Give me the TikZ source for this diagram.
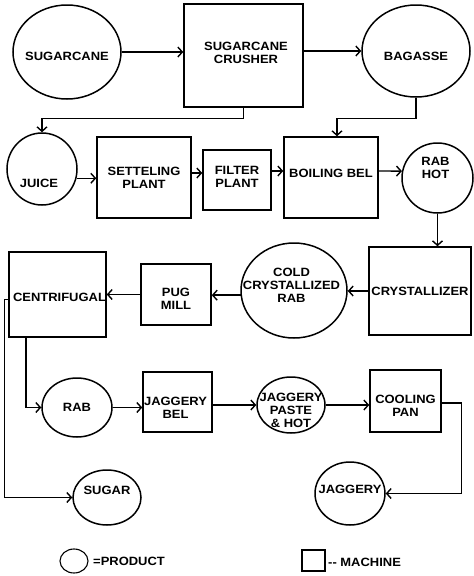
\documentclass[tikz,border=0pt]{standalone}
\usepackage{fontspec}
\setmainfont[FakeStretch=1.08]{Liberation Sans}
\usetikzlibrary{shapes.geometric,arrows.meta}
\begin{document}
\begin{tikzpicture}[x=1pt,y=-1pt,
  every node/.style={font=\fontsize{12}{13}\selectfont\bfseries},
  prod/.style={ellipse,draw,line width=1.5pt,inner sep=0pt},
  mach/.style={rectangle,draw,line width=1.5pt,inner sep=0pt},
  arr/.style={line width=1.4pt,-{Straight Barb[length=4.5pt,width=10pt]}},
  txt/.style={align=center}]
\fill[white] (0,0) rectangle (474,576);
\useasboundingbox (0,0) rectangle (474,576);
% row 1
\node[prod,minimum width=108pt,minimum height=94pt,label={[txt,yshift=-4pt]center:SUGARCANE}] (sugarcane) at (67,52) {};
\node[mach,minimum width=119pt,minimum height=103pt,label={[txt,yshift=3pt,xshift=2.5pt]center:SUGARCANE\\CRUSHER}] (crusher) at (243.5,55.5) {};
\node[prod,minimum width=108pt,minimum height=92pt,label={[txt,yshift=-5pt]center:BAGASSE}] (bagasse) at (416,51) {};
% row 2
\node[prod,minimum width=70pt,minimum height=72pt,label={[txt,yshift=-14pt,xshift=-3pt]center:JUICE}] (juice) at (42,169) {};
\node[mach,minimum width=94pt,minimum height=81pt,label={[txt]center:SETTELING\\PLANT}] (setteling) at (144,177.5) {};
\node[mach,minimum width=68pt,minimum height=60pt,label={[txt,yshift=3pt]center:FILTER\\PLANT}] (filter) at (237,180) {};
\node[mach,minimum width=94pt,minimum height=81pt,label={[txt,yshift=4pt]center:BOILING BEL}] (boiling) at (331,177.5) {};
\node[prod,minimum width=71pt,minimum height=70pt,label={[txt,yshift=10pt,xshift=-2pt]center:RAB\\HOT}] (rabhot) at (437.5,178) {};
% row 3
\node[mach,minimum width=102pt,minimum height=88pt,label={[txt]center:CRYSTALLIZER}] (crystallizer) at (420,291) {};
\node[prod,minimum width=106pt,minimum height=95pt,label={[txt,yshift=5pt,xshift=-2.5pt]center:COLD\\CRYSTALLIZED\\RAB}] (cold) at (294,290.5) {};
\node[mach,minimum width=70pt,minimum height=61pt,label={[txt,yshift=-4pt]center:PUG\\MILL}] (pug) at (176,294.5) {};
\node[mach,minimum width=97pt,minimum height=85pt,label={[txt,yshift=-3pt,xshift=2pt]center:CENTRIFUGAL}] (centrifugal) at (57.5,294.5) {};
% row 4
\node[prod,minimum width=70pt,minimum height=59pt,label={[txt]center:RAB}] (rab) at (77,407.5) {};
\node[mach,minimum width=69pt,minimum height=60pt,label={[txt,yshift=-6pt,xshift=-2pt]center:JAGGERY\\BEL}] (jbel) at (177.5,402) {};
\node[prod,minimum width=68pt,minimum height=56pt,label={[txt,yshift=-5pt]center:JAGGERY\\PASTE\\\&~HOT}] (paste) at (291,405) {};
\node[mach,minimum width=71pt,minimum height=62pt,label={[txt,yshift=-5pt]center:COOLING\\PAN}] (cooling) at (405.5,401) {};
% row 5
\node[prod,minimum width=68pt,minimum height=55pt,label={[txt,yshift=7pt]center:SUGAR}] (sugar) at (107,497.5) {};
\node[prod,minimum width=70pt,minimum height=63pt,label={[txt,yshift=4pt]center:JAGGERY}] (jaggery) at (350,493.5) {};
% legend
\node[prod,line width=1.1pt,minimum width=28pt,minimum height=24pt] (lprod) at (74,561) {};
\node[anchor=west,inner sep=0pt] (ptext) at (93,561) {=PRODUCT};
\node[mach,line width=1.1pt,minimum width=23pt,minimum height=21pt] (lmach) at (313.5,560.5) {};
\node[anchor=west,inner sep=0pt] (mtext) at (328,562) {-{}- MACHINE};
% connectors
\draw[arr] (sugarcane.east) -- (sugarcane.east -| crusher.west);
\draw[arr] (crusher.east |- bagasse.west) -- (bagasse.west);
\draw[arr] (crusher.south) -- ++(0pt,-11pt) -| (juice.north);
\draw[arr] (bagasse.south) -- ++(0pt,-21pt) -| ([xshift=6pt]boiling.north);
\draw[arr] (juice.-15) -- (juice.-15 -| setteling.west);
\coordinate (a1) at ([yshift=4.5pt]setteling.east);
\draw[arr] (a1) -- (a1 -| filter.west);
\coordinate (a2) at ([yshift=9pt]filter.east);
\draw[arr] (a2) -- (a2 -| boiling.west);
\coordinate (a3) at ([yshift=6.5pt]boiling.east);
\draw[arr] (a3) -- (rabhot.169);
\draw[arr] (rabhot.south) -- (rabhot.south |- crystallizer.north);
\draw[arr] (crystallizer.west) -- (crystallizer.west -| cold.east);
\draw[arr] (cold.185) -- (cold.185 -| pug.east);
\draw[arr] (pug.west) -- (pug.west -| centrifugal.east);
\coordinate (c2) at ([yshift=-5pt]centrifugal.west);
\draw[arr] (c2) -- ++(-4pt,0pt) |- (sugar.west);
\draw[arr] ([xshift=-31.5pt]centrifugal.south) |- (rab.west);
\draw[arr] (rab.east) -- (rab.east -| jbel.west);
\draw[arr] (paste.west -| jbel.east) -- (paste.west);
\draw[arr] (paste.east) -- (paste.east -| cooling.west);
\coordinate (c1) at ([yshift=-2pt]cooling.east);
\draw[arr] (c1) -- ++(20pt,0pt) |- (jaggery.east);
\end{tikzpicture}
\end{document}
